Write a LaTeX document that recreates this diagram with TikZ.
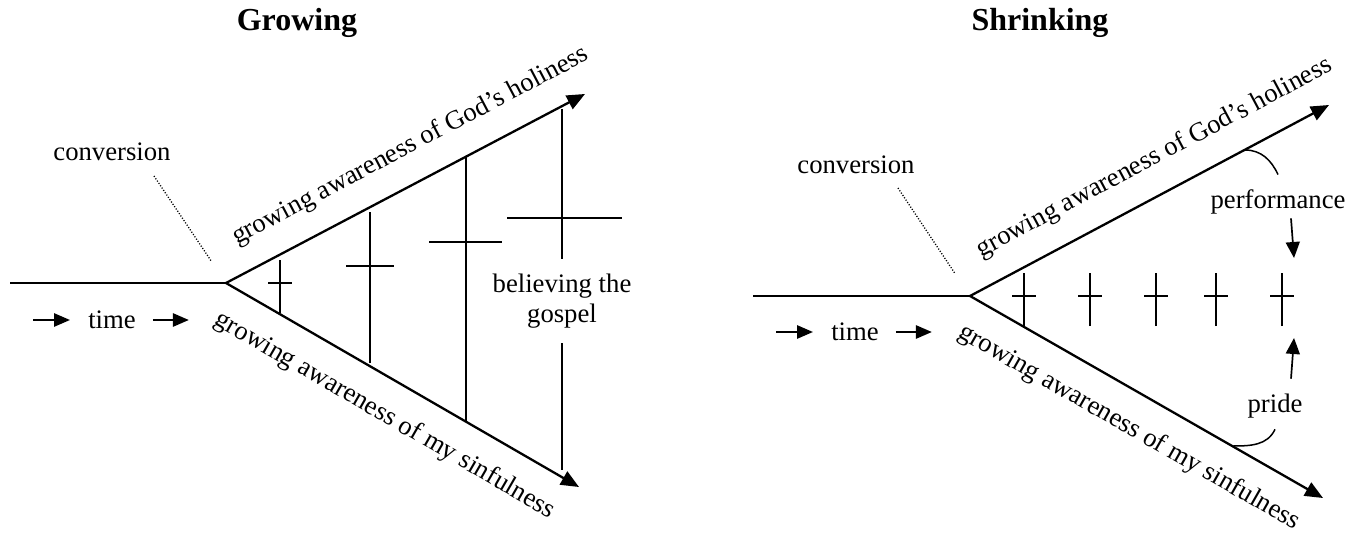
\documentclass[tikz,border=0pt]{standalone}
\usepackage{fontspec}
\setmainfont{Liberation Serif}
\usepackage{tikz}
\usetikzlibrary{arrows.meta, positioning, calc}

\begin{document}
\begin{tikzpicture}[x=1pt,y=1pt,
    axisline/.style={line width=2.3pt},
    awarearrow/.style={line width=2.3pt, {Triangle[length=18pt,width=15pt]}-{Triangle[length=18pt,width=15pt]}},
    crossline/.style={line width=1.8pt},
    convline/.style={line width=1.3pt, dash pattern=on 1.1pt off 1.7pt},
    timearrow/.style={line width=2.6pt, -{Triangle[length=16pt,width=13pt]}},
    caption/.style={font=\fontsize{26.7}{30}\selectfont, inner sep=4pt},
    heading/.style={font=\fontsize{32}{38}\selectfont\bfseries},
    awarelabel/.style={caption, sloped, inner sep=3pt, outer sep=20pt},
    pointer/.style={line width=1.7pt, -{Triangle[length=16pt,width=14pt]}},
    hookline/.style={line width=1.5pt}]
  \path[use as bounding box] (0,0) rectangle (1356,536);
  \fill[white] (0,0) rectangle (1356,536);

  % Growing
  \node[heading] (growtitle) at (297,513) {Growing};
  \coordinate (gv) at (226,253);
  \coordinate (gstart) at (10,253);
  \coordinate (gholy) at (585,442);
  \coordinate (gsin) at (579,49);
  \draw[axisline] (gstart) -- (gv);
  \draw[awarearrow] (gholy) -- (gv) -- (gsin);
  \path (gv) -- node[awarelabel, above, pos=.56] (gholylabel) {growing awareness of God’s holiness} (gholy);
  \path (gv) -- node[awarelabel, below, pos=.50] (gsinlabel) {growing awareness of my sinfulness} (gsin);

  \node[caption] (gconvlabel) at (112,384) {conversion};
  \coordinate (gconv) at (154,360);
  \draw[convline, shorten >=27pt] (gconv) -- (gv);

  \node[caption, inner sep=0pt] (gtime) at (112,216) {time};
  \draw[timearrow] ([xshift=-55pt]gtime.west) -- ([xshift=-18pt]gtime.west);
  \draw[timearrow] ([xshift=17pt]gtime.east) -- ([xshift=53pt]gtime.east);

  \draw[crossline] (280,223) -- (280,276) (268,253) -- (292,253);
  \draw[crossline] (370,173) -- (370,324) (346,270) -- (394,270);
  \draw[crossline] (466,114) -- (466,379) (429,294) -- (502,294);

  \node[caption, align=center, inner xsep=4pt, inner ysep=15pt] (gospel) at (562,235) {believing the\\gospel};
  \draw[crossline] (562,427) -- (gospel.north) (gospel.south) -- (562,66);
  \draw[crossline] (507,318) -- (622,318);

  % Shrinking
  \node[heading] (shrinktitle) at (1040,513) {Shrinking};
  \coordinate (sv) at (970,240);
  \coordinate (sstart) at (753,240);
  \coordinate (sholy) at (1329,431);
  \coordinate (ssin) at (1323,38);
  \draw[axisline] (sstart) -- (sv);
  \draw[awarearrow] (sholy) -- (sv) -- (ssin);
  \path (sv) -- node[awarelabel, above, pos=.56] (sholylabel) {growing awareness of God’s holiness} (sholy);
  \path (sv) -- node[awarelabel, below, pos=.50] (ssinlabel) {growing awareness of my sinfulness} (ssin);

  \node[caption] (sconvlabel) at (856,371) {conversion};
  \coordinate (sconv) at (898,348);
  \draw[convline, shorten >=27pt] (sconv) -- (sv);

  \node[caption, inner sep=0pt] (stime) at (855,204) {time};
  \draw[timearrow] ([xshift=-55pt]stime.west) -- ([xshift=-18pt]stime.west);
  \draw[timearrow] ([xshift=17pt]stime.east) -- ([xshift=53pt]stime.east);

  \draw[crossline] (1024,210) -- (1024,263) (1012,240) -- (1036,240);
  \draw[crossline] (1090,210) -- (1090,263) (1078,240) -- (1102,240);
  \draw[crossline] (1156,210) -- (1156,263) (1144,240) -- (1168,240);
  \draw[crossline] (1216,210) -- (1216,263) (1204,240) -- (1228,240);
  \draw[crossline] (1282,210) -- (1282,263) (1270,240) -- (1294,240);

  \node[caption] (perf) at (1278,334) {performance};
  \coordinate (perffoot) at (1245,386);
  \coordinate (perftip) at (1294,278);
  \draw[hookline] (perffoot) to[out=0,in=115] ([yshift=11pt]perf.north);
  \draw[pointer] ([xshift=13pt]perf.south) -- (perftip);

  \node[caption] (pride) at (1275,130) {pride};
  \coordinate (pridefoot) at (1233,90);
  \coordinate (pridetip) at (1294,198);
  \draw[hookline] (pridefoot) to[out=0,in=-115] ([yshift=-7pt]pride.south);
  \draw[pointer] ([xshift=16pt,yshift=11pt]pride.north) -- (pridetip);
\end{tikzpicture}
\end{document}
